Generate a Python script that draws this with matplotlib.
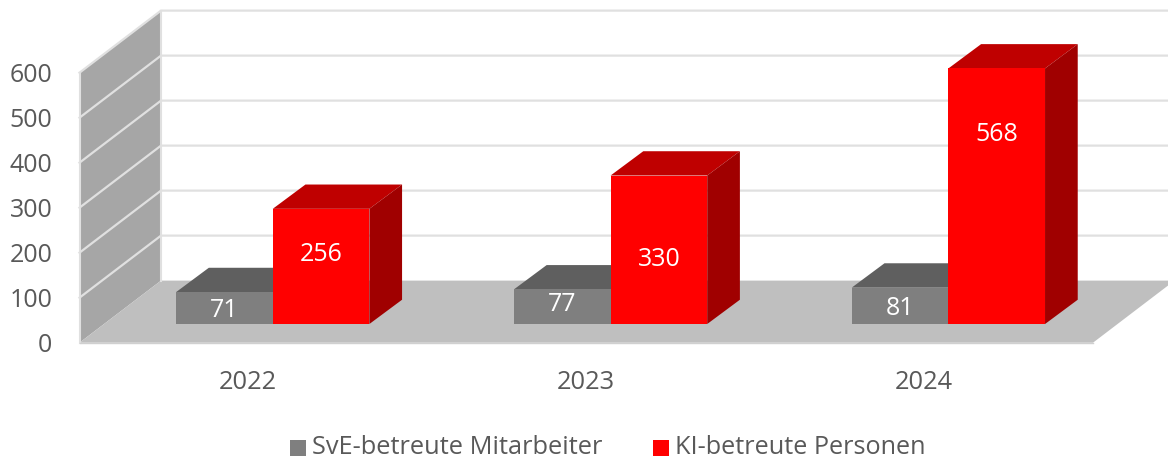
import matplotlib
matplotlib.use('Agg')
import matplotlib.pyplot as plt
from matplotlib.patches import Polygon, Rectangle

plt.rcParams['font.family'] = ['Open Sans', 'DejaVu Sans']

years = ['2022', '2023', '2024']
sve = [71, 77, 81]
ki = [256, 330, 568]
y_ticks = [0, 100, 200, 300, 400, 500, 600]
# the data labels were placed by hand in the original
sve_label_y = [72, 84, 76]
ki_label_y = [197, 186, 462]

# depth of the 3d box in data units (x categories, y persons)
box_dx = 0.2413
box_dy = 138
bar_w = 0.286
front_dx = 0.072   # bars stand a bit behind the front edge of the floor
front_dy = 41.5
bar_dx = 0.0968
bar_dy = 54

text_col = '#595959'

fig = plt.figure(figsize=(11.68, 4.59), dpi=100)
ax = fig.add_axes([79.5 / 1168, 1 - 342.7 / 459, 1013.5 / 1168, 270 / 459])
ax.set_xlim(0, 3)
ax.set_ylim(0, 600)
ax.axis('off')


def poly(points, color, z=1):
    ax.add_patch(Polygon(points, closed=True, fc=color, ec='none', clip_on=False, zorder=z))


# side wall and floor
poly([(0, 0), (box_dx, box_dy), (box_dx, 600 + box_dy), (0, 600)], '#a6a6a6')
poly([(0, 0), (3, 0), (3 + box_dx, box_dy), (box_dx, box_dy)], '#bfbfbf')

# grid lines on wall
for t in y_ticks:
    if t > 0:
        ax.plot([0, box_dx, 3 + box_dx], [t, t + box_dy, t + box_dy], color='#e0e0e0', lw=1.6,
                clip_on=False, zorder=2, solid_joinstyle='miter')
ax.plot([box_dx, box_dx], [box_dy, 600 + box_dy], color='#e0e0e0', lw=1.5, clip_on=False, zorder=2)
ax.plot([0, 0], [0, 600], color='#e0e0e0', lw=1.5, clip_on=False, zorder=2)
ax.plot([0, 3], [0, 0], color='#d0d0d0', lw=1, clip_on=False, zorder=2)


def bar3d(x, v, label_y, front, top, side, z):
    x0 = x + front_dx
    y0 = front_dy
    ax.add_patch(Rectangle((x0, y0), bar_w, v, fc=front, ec='none', clip_on=False, zorder=z + 0.2))
    poly([(x0, y0 + v), (x0 + bar_w, y0 + v), (x0 + bar_w + bar_dx, y0 + v + bar_dy),
          (x0 + bar_dx, y0 + v + bar_dy)], top, z)
    poly([(x0 + bar_w, y0), (x0 + bar_w + bar_dx, y0 + bar_dy), (x0 + bar_w + bar_dx, y0 + v + bar_dy),
          (x0 + bar_w, y0 + v)], side, z)
    ax.text(x0 + bar_w / 2, label_y, str(v), color='white', fontsize=18, ha='center', va='center',
            zorder=z + 1, clip_on=False)


for i in range(len(years)):
    c = i + 0.5
    bar3d(c - bar_w, sve[i], sve_label_y[i], '#7f7f7f', '#5f5f5f', '#5f5f5f', 3 + i)
    bar3d(c, ki[i], ki_label_y[i], '#ff0000', '#bf0000', '#a00000', 3.5 + i)
    ax.text(c - 0.002, -88, years[i], color=text_col, fontsize=18.4, ha='center', va='center', clip_on=False)

for t in y_ticks:
    ax.text(-0.08, t - 7, str(t), color=text_col, fontsize=18, ha='right', va='center', clip_on=False)

# legend
fig.patches.append(Rectangle((290 / 1168, 1 - 456 / 459), 16 / 1168, 16 / 459, fc='#7f7f7f', ec='none',
                             transform=fig.transFigure))
fig.patches.append(Rectangle((653 / 1168, 1 - 456 / 459), 16 / 1168, 16 / 459, fc='#ff0000', ec='none',
                             transform=fig.transFigure))
fig.text(312 / 1168, 1 - 447.5 / 459, 'SvE-betreute Mitarbeiter', color=text_col, fontsize=18.3, va='center')
fig.text(675 / 1168, 1 - 447.5 / 459, 'KI-betreute Personen', color=text_col, fontsize=18.2, va='center')

fig.savefig('out.png', dpi=100)
